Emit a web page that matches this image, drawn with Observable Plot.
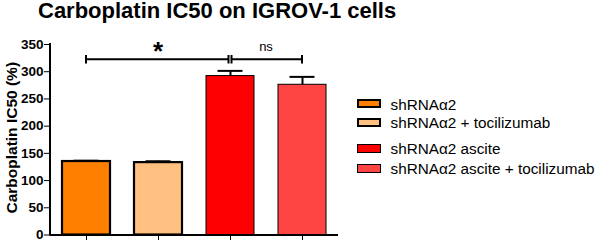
<!DOCTYPE html>
<html>
<head>
<meta charset="utf-8">
<script src="https://cdn.jsdelivr.net/npm/d3@7"></script>
<script src="https://cdn.jsdelivr.net/npm/@observablehq/plot@0.6"></script>
<style>
  html, body { margin: 0; padding: 0; background: #fff; }
  #wrap { position: relative; width: 600px; height: 240px; font-family: "Liberation Sans", Arial, sans-serif; }
  #wrap svg.plot { position: absolute; left: 0; top: 0; }
  #title { position: absolute; left: 38px; top: 0px; font-size: 22px; line-height: 21px; font-weight: bold; color: #000; white-space: nowrap; }
  .lg-row { position: absolute; left: 357px; height: 15px; white-space: nowrap; font-size: 15.3px; line-height: 15px; color: #000; }
  .lg-sw { position: absolute; left: 0; top: 2.7px; width: 24px; height: 9px; box-sizing: border-box; }
  .lg-tx { position: absolute; left: 33.5px; top: 0; }
  [aria-label^="y-axis"] line, [aria-label^="x-axis"] line { stroke-width: 2px; }
</style>
</head>
<body>
<div id="wrap">
  <div id="title">Carboplatin IC50 on IGROV-1 cells</div>
</div>
<script>
// ---- data ----
const categories = ["shRNAα2", "shRNAα2 + tocilizumab", "shRNAα2 ascite", "shRNAα2 ascite + tocilizumab"];
const means = [135, 133, 292, 276];
const sems = [1.5, 2.5, 9.5, 14.5];
const colors = ["#FF8000", "#FFC080", "#FF0000", "#FF4444"];
const yTicks = [0, 50, 100, 150, 200, 250, 300, 350];
const yLabel = "Carboplatin IC50 (%)";
const bracketFrom = [0, 2];
const bracketTo = [2, 3];
const bracketLevel = [322, 322];
const bracketLabels = ["*", "ns"];

// ---- styles ----
const barStrokeWidths = [2.2, 2.2, 1, 1];
const legendBaselines = [109.5, 128, 154, 174];

const data = categories.map((c, i) => ({cat: c, mean: means[i], sem: sems[i], sw: barStrokeWidths[i]}));
const brackets = bracketFrom.map((f, i) => ({from: f, to: bracketTo[i], level: bracketLevel[i], label: bracketLabels[i]}));

const FONT = '"Liberation Sans", Arial, sans-serif';

function center(sx, c) {
  const bw = sx.bandwidth ? sx.bandwidth() : 0;
  return sx(c) + bw / 2;
}

function yAxisLine(index, scales, values, dims) {
  const g = d3.create("svg:g");
  g.append("line")
    .attr("x1", dims.marginLeft).attr("x2", dims.marginLeft)
    .attr("y1", scales.y(0) + 1).attr("y2", scales.y(350) - 1)
    .attr("stroke", "#000").attr("stroke-width", 2);
  return g.node();
}

function bracketMark(index, scales, values, dims) {
  const sx = scales.x, sy = scales.y;
  const g = d3.create("svg:g").attr("fill", "none").attr("stroke", "#000").attr("stroke-width", 2);
  const endpoints = brackets.flatMap(b => [b.from, b.to]);
  for (const b of brackets) {
    const shared = k => endpoints.filter(e => e === k).length > 1;
    const xa = center(sx, categories[b.from]) + (shared(b.from) ? 1.5 : 0);
    const xb = center(sx, categories[b.to]) - (shared(b.to) ? 1.5 : 0);
    const y = sy(b.level);
    g.append("path").attr("d", `M${xa},${y - 4.2}V${y + 4.2}M${xa},${y}H${xb}M${xb},${y - 4.2}V${y + 4.2}`);
    const t = g.append("text")
      .attr("x", (center(sx, categories[b.from]) + center(sx, categories[b.to])) / 2)
      .attr("text-anchor", "middle").attr("stroke", "none").attr("fill", "#000")
      .attr("font-family", FONT)
      .text(b.label);
    if (b.label === "*") t.attr("y", y + 0.5).attr("font-size", 26).attr("font-weight", "bold");
    else t.attr("y", y - 8.6).attr("font-size", 13).attr("font-weight", "normal");
  }
  return g.node();
}

const chart = Plot.plot({
  width: 600,
  height: 240,
  marginLeft: 50,
  marginRight: 262,
  marginTop: 44,
  marginBottom: 5.5,
  style: {fontFamily: FONT, fontSize: "13.5px", fontWeight: "bold", background: "transparent", color: "#000", overflow: "visible"},
  x: {domain: categories, paddingInner: 1 / 3, paddingOuter: 1 / 6, align: 0.5, tickSize: 6, tickFormat: () => "", label: null},
  y: {domain: [0, 350], ticks: yTicks, tickSize: 6, tickPadding: 1, label: null},
  color: {domain: categories, range: colors},
  marks: [
    Plot.barY(data, {x: "cat", y: "mean", fill: "cat", stroke: "#000", strokeWidth: "sw"}),
    Plot.ruleX(data, {x: "cat", y1: "mean", y2: d => d.mean + d.sem, stroke: "#000", strokeWidth: 2}),
    Plot.tickY(data, {x: "cat", y: d => d.mean + d.sem, stroke: "#000", strokeWidth: 2, insetLeft: 11.5, insetRight: 11.5}),
    Plot.ruleY([0], {stroke: "#000", strokeWidth: 2}),
    yAxisLine,
    bracketMark,
    Plot.text([yLabel], {frameAnchor: "left", rotate: -90, textAnchor: "middle", lineAnchor: "middle", dx: -38, dy: -2, text: d => d, fontSize: 15.5, fontWeight: "bold", fill: "#000"})
  ]
});
chart.classList.add("plot");
const wrap = document.getElementById("wrap");
wrap.appendChild(chart);

// legend
categories.forEach((c, i) => {
  const row = document.createElement("div");
  row.className = "lg-row";
  row.style.top = (legendBaselines[i] - 12.7) + "px";
  const sw = document.createElement("div");
  sw.className = "lg-sw";
  sw.style.background = colors[i];
  sw.style.border = (barStrokeWidths[i] > 1.5 ? 2 : 1) + "px solid #000";
  const tx = document.createElement("span");
  tx.className = "lg-tx";
  tx.textContent = c;
  row.appendChild(sw);
  row.appendChild(tx);
  wrap.appendChild(row);
});
</script>
</body>
</html>
